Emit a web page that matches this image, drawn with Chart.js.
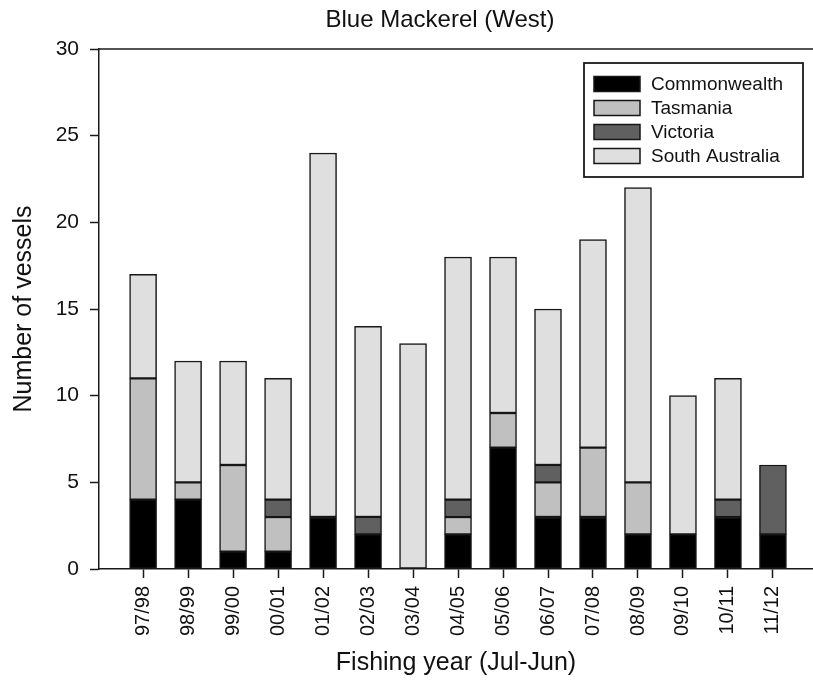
<!DOCTYPE html>
<html>
<head>
<meta charset="utf-8">
<script src="https://cdn.jsdelivr.net/npm/chart.js@4/dist/chart.umd.min.js"></script>
<style>
  html, body { margin: 0; padding: 0; background: #ffffff; }
  #wrap { width: 813px; height: 686px; }
</style>
</head>
<body>
<div id="wrap"><canvas id="c" width="813" height="686"></canvas></div>
<script>
// ---- Data ----
const categories = ["97/98","98/99","99/00","00/01","01/02","02/03","03/04","04/05","05/06","06/07","07/08","08/09","09/10","10/11","11/12"];
const commonwealth  = [4, 4, 1, 1, 3, 2, 0, 2, 7, 3, 3, 2, 2, 3, 2];
const tasmania      = [7, 1, 5, 2, 0, 0, 0, 1, 2, 2, 4, 3, 0, 0, 0];
const victoria      = [0, 0, 0, 1, 0, 1, 0, 1, 0, 1, 0, 0, 0, 1, 4];
const southAustralia= [6, 7, 6, 7, 21, 11, 13, 14, 9, 9, 12, 17, 8, 7, 0];
const yTicks = [0, 5, 10, 15, 20, 25, 30];
const chartTitle = "Blue Mackerel (West)";
const xTitle = "Fishing year (Jul-Jun)";
const yTitle = "Number of vessels";

const FONT = "'Liberation Sans', Arial, Helvetica, sans-serif";

function toPoints(arr) { return arr.map((v, i) => ({ x: i, y: v })); }

const seriesDefs = [
  { label: "Commonwealth",    data: commonwealth,   color: "#000000" },
  { label: "Tasmania",        data: tasmania,       color: "#c0c0c0" },
  { label: "Victoria",        data: victoria,       color: "#606060" },
  { label: "South Australia", data: southAustralia, color: "#dfdfdf" }
];

const datasets = seriesDefs.map(s => ({
  label: s.label,
  data: toPoints(s.data),
  backgroundColor: s.color,
  borderColor: "#161616",
  borderWidth: 1.5,
  borderSkipped: false,
  barThickness: 27
}));

const decorPlugin = {
  id: "decor",
  afterDraw(chart) {
    const ctx = chart.ctx;
    const a = chart.chartArea;
    ctx.save();
    // top frame line
    ctx.strokeStyle = "#1a1a1a";
    ctx.lineWidth = 1.5;
    ctx.beginPath();
    ctx.moveTo(a.left, a.top);
    ctx.lineTo(a.right, a.top);
    ctx.stroke();

    // title
    ctx.fillStyle = "#111111";
    ctx.font = "24px " + FONT;
    ctx.textAlign = "center";
    ctx.textBaseline = "middle";
    ctx.fillText(chartTitle, 440, 20);

    // legend
    const lx = a.right - 229, ly = a.top + 14, lw = 219, lh = 114;
    ctx.lineWidth = 1.8;
    ctx.strokeStyle = "#1a1a1a";
    ctx.strokeRect(lx, ly, lw, lh);
    ctx.font = "19px " + FONT;
    ctx.textAlign = "left";
    chart.data.datasets.forEach((ds, i) => {
      const cy = ly + 21 + i * 24;
      ctx.fillStyle = ds.backgroundColor;
      ctx.fillRect(lx + 10, cy - 7.5, 46, 15);
      ctx.lineWidth = 1.5;
      ctx.strokeStyle = "#161616";
      ctx.strokeRect(lx + 10, cy - 7.5, 46, 15);
      ctx.fillStyle = "#111111";
      ctx.fillText(ds.label, lx + 67, cy + 1);
    });
    ctx.restore();
  }
};

new Chart(document.getElementById("c"), {
  type: "bar",
  data: { datasets },
  plugins: [decorPlugin],
  options: {
    responsive: false,
    animation: false,
    layout: { padding: { top: 49, left: 0, right: 0, bottom: 0 } },
    plugins: {
      legend: { display: false },
      title: { display: false },
      tooltip: { enabled: false }
    },
    scales: {
      x: {
        type: "linear",
        stacked: true,
        offset: false,
        min: -0.98,
        max: 14.89,
        afterBuildTicks(axis) { axis.ticks = categories.map((_, i) => ({ value: i })); },
        afterFit(axis) { axis.height = 117; },
        ticks: {
          autoSkip: false,
          minRotation: 90,
          maxRotation: 90,
          padding: 8,
          color: "#111111",
          font: { family: FONT, size: 20 },
          callback: (v) => categories[v] !== undefined ? categories[v] : ""
        },
        grid: { offset: false, drawOnChartArea: false, drawTicks: true, tickLength: 9, tickColor: "#1a1a1a", tickWidth: 1.5 },
        border: { display: true, color: "#1a1a1a", width: 1.5 },
        title: { display: true, text: xTitle, color: "#111111", font: { family: FONT, size: 25 }, padding: { top: 0, bottom: 8 } }
      },
      y: {
        stacked: true,
        min: 0,
        max: 30,
        afterBuildTicks(axis) { axis.ticks = yTicks.map(v => ({ value: v })); },
        afterFit(axis) { axis.width = 99; },
        ticks: {
          padding: 11,
          color: "#111111",
          font: { family: FONT, size: 21 }
        },
        grid: { drawOnChartArea: false, drawTicks: true, tickLength: 9, tickColor: "#1a1a1a", tickWidth: 1.5 },
        border: { display: true, color: "#1a1a1a", width: 1.5 },
        title: { display: true, text: yTitle, color: "#111111", font: { family: FONT, size: 25 }, padding: { top: 9, bottom: 0 } }
      }
    }
  }
});
</script>
</body>
</html>
